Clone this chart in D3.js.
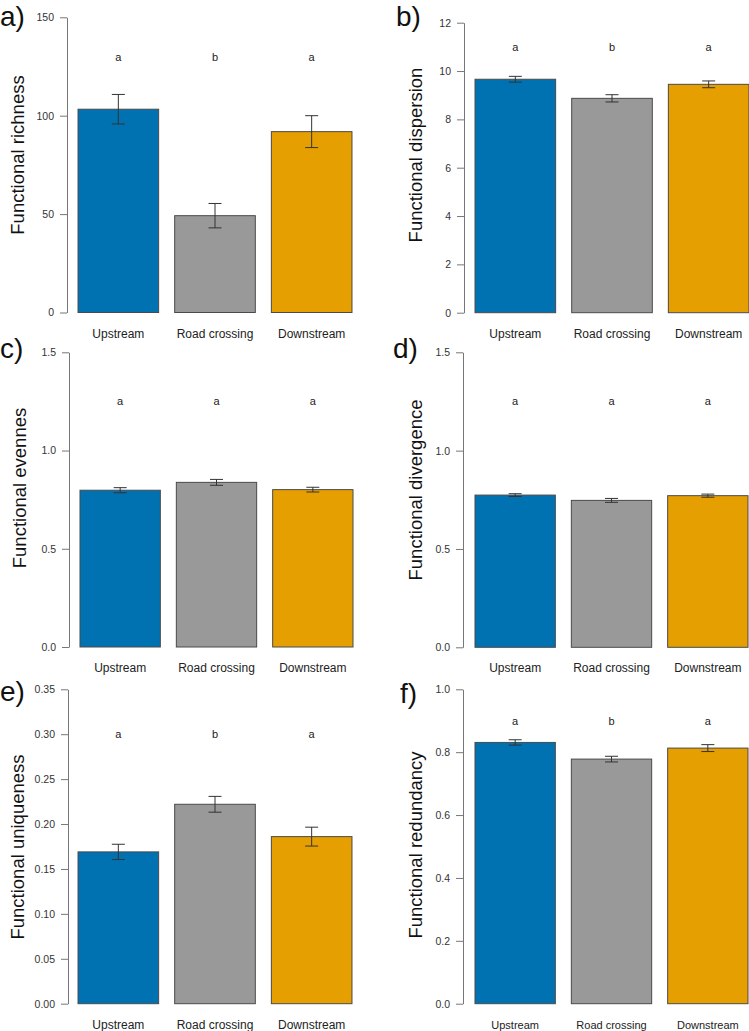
<!DOCTYPE html>
<html>
<head>
<meta charset="utf-8">
<script src="https://cdn.jsdelivr.net/npm/d3@7"></script>
<style>
  body { margin: 0; background: #fff; }
  svg text { font-family: "Liberation Sans", Arial, sans-serif; }
</style>
</head>
<body>
<div id="chart"></div>
<script>
// sites along the stream
var categories = ["Upstream", "Road crossing", "Downstream"];
var barColors = ["#0072B2", "#999999", "#E69F00"];

// means, standard errors and post-hoc letters
var richnessMean = [103.3, 49.2, 91.9];
var richnessSE = [7.5, 6.2, 8.1];
var richnessLetters = ["a", "b", "a"];

var dispersionMean = [9.66, 8.87, 9.45];
var dispersionSE = [0.12, 0.15, 0.14];
var dispersionLetters = ["a", "b", "a"];

var evennessMean = [0.798, 0.838, 0.801];
var evennessSE = [0.013, 0.015, 0.012];
var evennessLetters = ["a", "a", "a"];

var divergenceMean = [0.774, 0.747, 0.771];
var divergenceSE = [0.007, 0.01, 0.008];
var divergenceLetters = ["a", "a", "a"];

var uniquenessMean = [0.169, 0.222, 0.186];
var uniquenessSE = [0.0085, 0.0088, 0.0105];
var uniquenessLetters = ["a", "b", "a"];

var redundancyMean = [0.831, 0.778, 0.813];
var redundancySE = [0.0085, 0.009, 0.011];
var redundancyLetters = ["a", "b", "a"];

// tick values for each panel
var richnessTicks = [0, 50, 100, 150];
var dispersionTicks = [0, 2, 4, 6, 8, 10, 12];
var evennessTicks = [0, 0.5, 1, 1.5];
var divergenceTicks = [0, 0.5, 1, 1.5];
var uniquenessTicks = [0, 0.05, 0.1, 0.15, 0.2, 0.25, 0.3, 0.35];
var redundancyTicks = [0, 0.2, 0.4, 0.6, 0.8, 1];

var svg = d3.select("#chart").append("svg")
    .attr("width", 749)
    .attr("height", 1031);

var panels = [
    {tag: "a)", label: "Functional richness", mean: richnessMean, se: richnessSE, letters: richnessLetters,
     ticks: richnessTicks, fmt: d3.format("d"), letterAt: 130,
     axisX: 67, xr: [70, 360], yr: [312.5, 17.3], labelX: 18, labelY: 155, tagX: 0, tagY: 26, catSize: 12},
    {tag: "b)", label: "Functional dispersion", mean: dispersionMean, se: dispersionSE, letters: dispersionLetters,
     ticks: dispersionTicks, fmt: d3.format("d"), letterAt: 11,
     axisX: 464, xr: [467, 757], yr: [312.7, 22.7], labelX: 416, labelY: 155, tagX: 396, tagY: 26, catSize: 12},
    {tag: "c)", label: "Functional evennes", mean: evennessMean, se: evennessSE, letters: evennessLetters,
     ticks: evennessTicks, fmt: d3.format(".1f"), letterAt: 1.25,
     axisX: 69, xr: [72, 361], yr: [647, 352.3], labelX: 20, labelY: 488, tagX: 0, tagY: 358, catSize: 12},
    {tag: "d)", label: "Functional divergence", mean: divergenceMean, se: divergenceSE, letters: divergenceLetters,
     ticks: divergenceTicks, fmt: d3.format(".1f"), letterAt: 1.25,
     axisX: 463, xr: [467, 756], yr: [647.3, 352.3], labelX: 416, labelY: 490, tagX: 393, tagY: 358, catSize: 12},
    {tag: "e)", label: "Functional uniqueness", mean: uniquenessMean, se: uniquenessSE, letters: uniquenessLetters,
     ticks: uniquenessTicks, fmt: d3.format(".2f"), letterAt: 0.30,
     axisX: 68, xr: [70, 360], yr: [1003.7, 689.3], labelX: 18, labelY: 847, tagX: 0, tagY: 701, catSize: 12},
    {tag: "f)", label: "Functional redundancy", mean: redundancyMean, se: redundancySE, letters: redundancyLetters,
     ticks: redundancyTicks, fmt: d3.format(".1f"), letterAt: 0.90,
     axisX: 463, xr: [467, 756], yr: [1003.7, 689.3], labelX: 416, labelY: 845, tagX: 400, tagY: 703, catSize: 11}
];

panels.forEach(function (p) {
    var g = svg.append("g");

    var x = d3.scaleBand()
        .domain(categories)
        .range(p.xr)
        .paddingInner(0.166)
        .paddingOuter(0.083);

    var y = d3.scaleLinear()
        .domain([0, d3.max(p.ticks)])
        .range(p.yr);

    var rows = categories.map(function (c, i) {
        return {cat: c, mean: p.mean[i], se: p.se[i], letter: p.letters[i], color: barColors[i]};
    });

    // bars
    g.selectAll(".bar").data(rows).enter().append("rect")
        .attr("class", "bar")
        .attr("x", function (d) { return x(d.cat); })
        .attr("width", x.bandwidth())
        .attr("y", function (d) { return y(d.mean); })
        .attr("height", function (d) { return y(0) - y(d.mean); })
        .style("fill", function (d) { return d.color; })
        .style("stroke", "#4a4a4a")
        .style("stroke-width", 1);

    // error bars
    var eb = g.selectAll(".err").data(rows).enter().append("g")
        .attr("class", "err")
        .attr("transform", function (d) { return "translate(" + (x(d.cat) + x.bandwidth() / 2) + ",0)"; })
        .style("stroke", "#333")
        .style("stroke-width", 1);
    eb.append("line")
        .attr("y1", function (d) { return y(d.mean + d.se); })
        .attr("y2", function (d) { return y(d.mean - d.se); });
    eb.append("line")
        .attr("x1", -6.5).attr("x2", 6.5)
        .attr("y1", function (d) { return y(d.mean + d.se); })
        .attr("y2", function (d) { return y(d.mean + d.se); });
    eb.append("line")
        .attr("x1", -6.5).attr("x2", 6.5)
        .attr("y1", function (d) { return y(d.mean - d.se); })
        .attr("y2", function (d) { return y(d.mean - d.se); });

    // significance letters
    g.selectAll(".letter").data(rows).enter().append("text")
        .attr("class", "letter")
        .attr("x", function (d) { return x(d.cat) + x.bandwidth() / 2; })
        .attr("y", y(p.letterAt))
        .attr("dy", "0.35em")
        .attr("text-anchor", "middle")
        .style("font-size", "11px")
        .style("fill", "#222")
        .text(function (d) { return d.letter; });

    // y axis
    var ax = g.append("g")
        .attr("transform", "translate(" + p.axisX + ",0)")
        .call(d3.axisLeft(y).tickValues(p.ticks).tickFormat(p.fmt).tickSize(7).tickSizeOuter(0).tickPadding(6));
    ax.select(".domain").style("stroke", "#777");
    ax.selectAll(".tick line").style("stroke", "#777");
    ax.selectAll(".tick text").style("font-size", "10.5px").style("fill", "#333");

    // category labels
    g.selectAll(".cat").data(rows).enter().append("text")
        .attr("class", "cat")
        .attr("x", function (d) { return x(d.cat) + x.bandwidth() / 2; })
        .attr("y", y(0) + 25)
        .attr("text-anchor", "middle")
        .style("font-size", p.catSize + "px")
        .style("fill", "#222")
        .text(function (d) { return d.cat; });

    // y axis title
    g.append("text")
        .attr("transform", "translate(" + p.labelX + "," + p.labelY + ") rotate(-90)")
        .attr("text-anchor", "middle")
        .attr("dy", "0.35em")
        .style("font-size", "18.5px")
        .style("fill", "#111")
        .text(p.label);

    // panel tag
    g.append("text")
        .attr("x", p.tagX)
        .attr("y", p.tagY)
        .style("font-size", "28px")
        .style("fill", "#111")
        .text(p.tag);
});
</script>
</body>
</html>
